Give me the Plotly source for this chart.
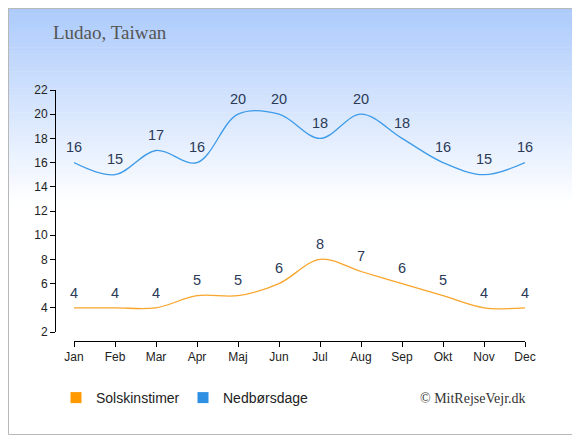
import plotly.graph_objects as go

# --- Data ---
months = ["Jan", "Feb", "Mar", "Apr", "Maj", "Jun", "Jul", "Aug", "Sep", "Okt", "Nov", "Dec"]
sun_hours = [4, 4, 4, 5, 5, 6, 8, 7, 6, 5, 4, 4]
rain_days = [16, 15, 17, 16, 20, 20, 18, 20, 18, 16, 15, 16]
y_ticks = list(range(2, 23, 2))

orange = "#f9a52b"
blue = "#3d9be9"
label_color = "#2b3a58"

# page body adds an 8px margin, so positions below are reference pixels minus OFF
OFF = 8
W, H = 580 - OFF, 435 - OFF


def px(v):
    return v - OFF


ml = px(55)
mt = px(90)
plot_right = px(525)
plot_bottom = px(341)
mr = W - plot_right
mb = H - plot_bottom
pw, ph = W - ml - mr, H - mt - mb


def xp(v):
    return (px(v) - ml) / pw


def yp(v):
    return (plot_bottom - px(v)) / ph


fig = go.Figure()

for vals, col in [(rain_days, blue), (sun_hours, orange)]:
    fig.add_trace(go.Scatter(
        x=months, y=vals, mode="lines+markers+text", text=[str(v) for v in vals],
        textposition="top center",
        textfont=dict(size=14.5, color=label_color, family="Liberation Sans"),
        marker=dict(size=9, opacity=0),
        line=dict(color=col, width=1.3, shape="spline", smoothing=1.0),
        showlegend=False, cliponaxis=False, hoverinfo="skip"
    ))

# legend entries with square markers
fig.add_trace(go.Scatter(x=[None], y=[None], mode="markers", name="Solskinstimer",
                         marker=dict(symbol="square", size=11, color="#ff9900")))
fig.add_trace(go.Scatter(x=[None], y=[None], mode="markers", name="Nedbørsdage",
                         marker=dict(symbol="square", size=11, color="#2f8fe3")))

# --- background gradient (light blue at top fading to white) ---
shapes = []
n = 60
top_px, end_px = 0, 205
c0 = (168, 200, 251)
for i in range(n):
    y0p = top_px + (end_px - top_px) * i / n
    y1p = top_px + (end_px - top_px) * (i + 1) / n
    t = (i + 0.5) / n
    c = tuple(round(c0[k] + (255 - c0[k]) * t) for k in range(3))
    shapes.append(dict(
        type="rect", xref="paper", yref="paper", layer="below",
        x0=xp(0), x1=xp(590),
        y0=yp(y1p), y1=yp(y0p) + 0.002,
        fillcolor="rgb(%d,%d,%d)" % c, line=dict(width=0)
    ))
shapes.append(dict(type="rect", xref="paper", yref="paper",
                   x0=xp(OFF + 0.5), x1=xp(579.5),
                   y0=yp(434.5), y1=yp(OFF + 0.5),
                   line=dict(color="#b8b8b8", width=1), layer="above"))

axis_font = dict(size=12, color="#222", family="Liberation Sans")

fig.update_layout(
    width=W, height=H,
    margin=dict(l=ml, r=mr, t=mt, b=mb),
    paper_bgcolor="white", plot_bgcolor="rgba(0,0,0,0)",
    shapes=shapes,
    xaxis=dict(
        domain=[xp(74), 1], range=[0, 11],
        anchor="free", position=0,
        showline=True, linecolor="black", linewidth=1,
        ticks="outside", ticklen=5, tickcolor="black",
        showgrid=False, zeroline=False, tickfont=axis_font,
    ),
    yaxis=dict(
        domain=[yp(332), 1], range=[2, 22],
        anchor="free", position=0,
        tickvals=y_ticks,
        showline=True, linecolor="black", linewidth=1,
        ticks="outside", ticklen=5, tickcolor="black",
        showgrid=False, zeroline=False, tickfont=axis_font,
    ),
    legend=dict(
        orientation="h", x=xp(56), y=yp(398),
        xanchor="left", yanchor="middle",
        font=dict(size=14, color="#222", family="Liberation Sans"),
        bgcolor="rgba(0,0,0,0)", entrywidth=82, itemwidth=30,
    ),
    annotations=[
        dict(text="Ludao, Taiwan", xref="paper", yref="paper",
             x=xp(51), y=yp(33), xanchor="left", yanchor="middle",
             showarrow=False, font=dict(size=19, color="#555", family="Liberation Serif")),
        dict(text="© MitRejseVejr.dk", xref="paper", yref="paper",
             x=xp(528), y=yp(398), xanchor="right", yanchor="middle",
             showarrow=False, font=dict(size=14, color="#333", family="Liberation Serif")),
    ],
)

fig.write_html("out.html")
